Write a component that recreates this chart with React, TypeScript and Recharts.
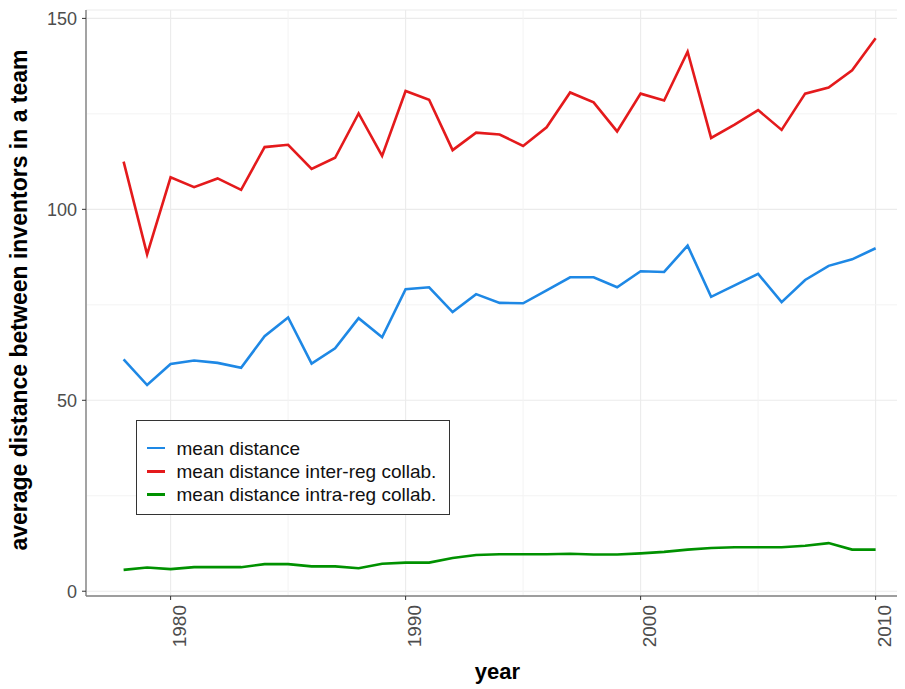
import React from 'react';
import {
  LineChart,
  Line,
  XAxis,
  YAxis,
  CartesianGrid,
  ReferenceLine,
  Legend,
} from 'recharts';

const years = [
  1978, 1979, 1980, 1981, 1982, 1983, 1984, 1985, 1986, 1987, 1988,
  1989, 1990, 1991, 1992, 1993, 1994, 1995, 1996, 1997, 1998, 1999,
  2000, 2001, 2002, 2003, 2004, 2005, 2006, 2007, 2008, 2009, 2010,
];

const meanDistance = [
  60.7, 54.0, 59.5, 60.4, 59.8, 58.5, 66.8, 71.7, 59.6, 63.6, 71.5,
  66.5, 79.1, 79.6, 73.1, 77.8, 75.5, 75.4, 78.8, 82.2, 82.2, 79.6,
  83.8, 83.6, 90.5, 77.1, 80.1, 83.1, 75.7, 81.5, 85.2, 86.9, 89.8,
];

const interReg = [
  112.5, 88.2, 108.4, 105.8, 108.1, 105.1, 116.3, 116.9, 110.6, 113.5, 125.1,
  114.0, 131.0, 128.7, 115.5, 120.1, 119.6, 116.6, 121.5, 130.6, 128.0, 120.4,
  130.3, 128.5, 141.3, 118.7, 122.2, 126.0, 120.8, 130.3, 131.9, 136.4, 144.8,
];

const intraReg = [
  5.6, 6.2, 5.8, 6.3, 6.3, 6.3, 7.1, 7.1, 6.5, 6.5, 6.0,
  7.2, 7.5, 7.5, 8.7, 9.5, 9.7, 9.7, 9.7, 9.8, 9.6, 9.6,
  9.9, 10.3, 10.9, 11.3, 11.5, 11.5, 11.5, 11.9, 12.6, 10.9, 10.9,
];

const seriesNames = [
  'mean distance',
  'mean distance inter-reg collab.',
  'mean distance intra-reg collab.',
];
const seriesColors = ['#1E88E5', '#E41A1C', '#009100'];

const xTicks = [1980, 1990, 2000, 2010];
const xMinorTicks = [1985, 1995, 2005];
const yTicks = [0, 50, 100, 150];
const yMinorTicks = [25, 75, 125];
const xDomain = [1976.4, 2011.25];
const yDomain = [-1.25, 152.2];

const xTitle = 'year';
const yTitle = 'average distance between inventors in a team';

const data = years.map((year, i) => ({
  year,
  mean: meanDistance[i],
  inter: interReg[i],
  intra: intraReg[i],
}));

const FONT = '"Liberation Sans", Arial, Helvetica, sans-serif';

const XTick = (props: any) => {
  const { x, y, payload } = props;
  return (
    <text
      x={x}
      y={y}
      transform={`rotate(-90 ${x} ${y})`}
      textAnchor="end"
      dy={15}
      fill="#4d4d4d"
      fontSize={19}
      fontFamily={FONT}
    >
      {payload.value}
    </text>
  );
};

const YTitle = (props: any) => {
  const vb = props.viewBox || { x: 8, y: 2, width: 78, height: 586 };
  const cx = vb.x + 19;
  const cy = vb.y + vb.height / 2 - 3;
  return (
    <text
      x={cx}
      y={cy}
      transform={`rotate(-90 ${cx} ${cy})`}
      textAnchor="middle"
      fontSize={23}
      fontWeight="bold"
      fill="#000"
      fontFamily={FONT}
    >
      {yTitle}
    </text>
  );
};

const XTitle = (props: any) => {
  const vb = props.viewBox || { x: 86, y: 588, width: 819, height: 93 };
  return (
    <text
      x={vb.x + vb.width / 2 + 2}
      y={vb.y + 83}
      textAnchor="middle"
      fontSize={22}
      fontWeight="bold"
      fill="#000"
      fontFamily={FONT}
    >
      {xTitle}
    </text>
  );
};

const LegendBox = (props: any) => {
  const payload = (props.payload || []).filter((p: any) => seriesNames.includes(p.value));
  return (
    <div
      style={{
        width: 314,
        height: 95,
        border: '1px solid #333',
        background: '#fff',
        boxSizing: 'border-box',
        paddingTop: 15.5,
        fontFamily: FONT,
      }}
    >
      {payload.map((p: any) => (
        <div
          key={p.value}
          style={{ display: 'flex', alignItems: 'center', height: 23.3 }}
        >
          <div
            style={{
              marginLeft: 10,
              width: 18.5,
              height: 2.6,
              background: p.color,
            }}
          />
          <span
            style={{
              marginLeft: 11.5,
              fontSize: 19,
              lineHeight: '23px',
              color: '#111',
              whiteSpace: 'nowrap',
            }}
          >
            {p.value}
          </span>
        </div>
      ))}
    </div>
  );
};

export default function App() {
  return (
    <div style={{ width: 905, height: 681, marginLeft: -8, fontFamily: FONT }}>
      <LineChart
        width={905}
        height={681}
        data={data}
        margin={{ top: 2, right: 0, bottom: 0, left: 8 }}
      >
        <CartesianGrid stroke="#ebebeb" strokeWidth={1.1} />
        {yMinorTicks.map((v) => (
          <ReferenceLine key={'ym' + v} y={v} stroke="#f3f3f3" strokeWidth={1} />
        ))}
        {xMinorTicks.map((v) => (
          <ReferenceLine key={'xm' + v} x={v} stroke="#f3f3f3" strokeWidth={1} />
        ))}
        <XAxis
          dataKey="year"
          type="number"
          domain={xDomain}
          ticks={xTicks}
          allowDataOverflow
          height={93}
          tickSize={4}
          tickMargin={5}
          tick={<XTick />}
          tickLine={{ stroke: '#333' }}
          axisLine={{ stroke: '#808080', strokeWidth: 1.4 }}
          label={<XTitle />}
        />
        <XAxis
          xAxisId="top"
          orientation="top"
          dataKey="year"
          type="number"
          domain={xDomain}
          allowDataOverflow
          height={0}
          tick={false}
          tickLine={false}
          axisLine={{ stroke: '#808080', strokeWidth: 1.4 }}
        />
        <YAxis
          type="number"
          domain={yDomain}
          ticks={yTicks}
          allowDataOverflow
          width={78}
          tickSize={4}
          tickMargin={5}
          tick={{ fill: '#4d4d4d', fontSize: 18, fontFamily: FONT }}
          tickLine={{ stroke: '#333' }}
          axisLine={{ stroke: '#808080', strokeWidth: 1.4 }}
          label={<YTitle />}
        />
        <Line
          type="linear"
          dataKey="mean"
          name={seriesNames[0]}
          stroke={seriesColors[0]}
          strokeWidth={2.6}
          dot={false}
          isAnimationActive={false}
        />
        <Line
          type="linear"
          dataKey="inter"
          name={seriesNames[1]}
          stroke={seriesColors[1]}
          strokeWidth={2.6}
          dot={false}
          isAnimationActive={false}
        />
        <Line
          type="linear"
          dataKey="intra"
          name={seriesNames[2]}
          stroke={seriesColors[2]}
          strokeWidth={2.6}
          dot={false}
          isAnimationActive={false}
        />
        <Legend
          layout="vertical"
          align="center"
          verticalAlign="middle"
          content={<LegendBox />}
          wrapperStyle={{ position: 'absolute', left: 135.5, top: 412, width: 314, height: 95 }}
        />
      </LineChart>
    </div>
  );
}
